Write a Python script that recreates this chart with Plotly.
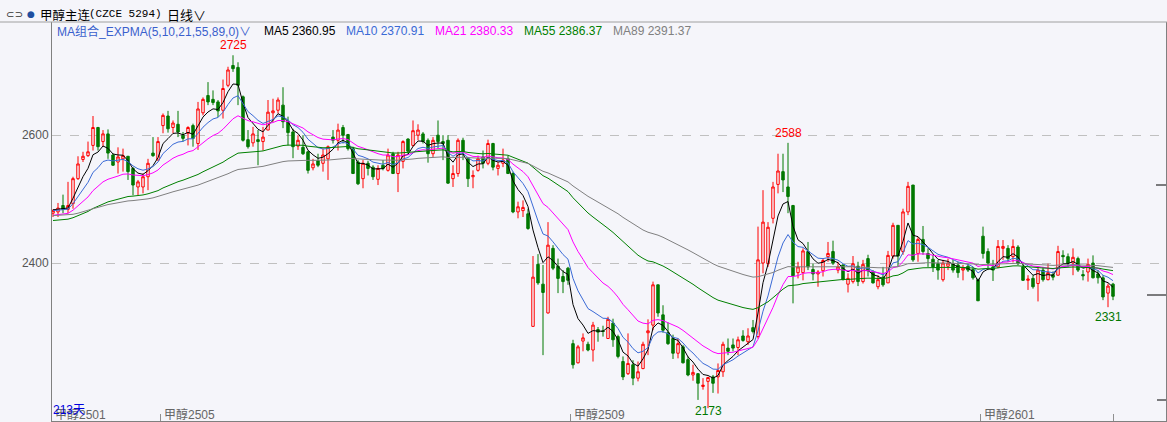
import plotly.graph_objects as go

# ---------------- data ----------------
open_ = [2478,2480,2490,2484,2493,2532,2562,2568,2584,2612,2590,2602,2569,2558,2563,2567,2548,2519,2519,2535,
         2572,2561,2615,2630,2612,2617,2600,2603,2615,2587,2635,2662,2656,2652,2639,2678,2709,2706,2660,2593,
         2588,2593,2590,2608,2635,2639,2647,2621,2605,2583,2581,2574,2549,2560,2556,2563,2597,2592,2612,2601,
         2579,2558,2532,2556,2550,2531,2553,2545,2571,2540,2559,2594,2584,2600,2602,2592,2571,2600,2590,2592,
         2532,2540,2592,2563,2535,2545,2566,2556,2587,2548,2556,2563,2540,2480,2482,2477,2301,2398,2367,2322,
         2423,2395,2379,2392,2274,2244,2278,2273,2264,2296,2294,2282,2306,2285,2246,2227,2241,2220,2235,2291,
         2303,2366,2319,2291,2282,2259,2269,2249,2225,2227,2207,2215,2222,2222,2230,2267,2272,2268,2286,2277,
         2299,2285,2400,2399,2470,2523,2543,2519,2490,2385,2385,2418,2390,2383,2388,2410,2418,2389,2397,2367,
         2371,2395,2371,2407,2386,2363,2378,2369,2411,2459,2418,2480,2522,2415,2437,2415,2406,2399,2374,2395,
         2399,2397,2389,2395,2390,2374,2442,2418,2394,2394,2423,2423,2410,2425,2394,2373,2376,2368,2389,2374,
         2382,2381,2412,2410,2400,2407,2382,2386,2400,2383,2377,2353,2367]
high = [2484,2494,2507,2527,2535,2567,2574,2590,2630,2613,2608,2609,2571,2581,2579,2567,2550,2530,2540,2563,
        2597,2597,2634,2638,2623,2638,2605,2614,2618,2652,2659,2683,2670,2655,2687,2707,2725,2714,2662,2608,
        2613,2608,2613,2655,2657,2659,2675,2629,2610,2600,2600,2576,2563,2571,2579,2584,2608,2618,2616,2602,
        2582,2561,2561,2560,2553,2553,2561,2579,2574,2574,2592,2595,2623,2617,2605,2595,2597,2623,2600,2600,
        2553,2595,2596,2566,2545,2568,2576,2593,2588,2558,2579,2568,2543,2496,2498,2485,2411,2414,2397,2464,
        2428,2407,2389,2394,2280,2272,2290,2277,2308,2300,2302,2316,2313,2288,2254,2290,2248,2246,2277,2312,
        2371,2366,2334,2307,2288,2282,2272,2254,2241,2228,2220,2222,2225,2243,2277,2282,2282,2285,2295,2298,
        2311,2457,2514,2464,2527,2571,2571,2588,2491,2402,2423,2433,2399,2389,2407,2433,2435,2402,2398,2384,
        2411,2402,2405,2413,2389,2381,2394,2419,2463,2459,2485,2527,2522,2441,2458,2423,2413,2405,2405,2407,
        2405,2402,2397,2399,2394,2376,2457,2423,2405,2436,2436,2428,2437,2428,2398,2381,2381,2394,2394,2399,
        2387,2427,2420,2415,2423,2410,2389,2407,2412,2389,2381,2368,2369]
low = [2472,2472,2478,2478,2485,2530,2558,2566,2576,2576,2582,2563,2552,2540,2543,2530,2506,2506,2509,2514,
       2566,2561,2603,2604,2603,2597,2590,2584,2582,2577,2631,2647,2647,2628,2626,2675,2699,2647,2590,2579,
       2582,2553,2576,2608,2621,2634,2611,2584,2564,2577,2569,2540,2545,2550,2543,2530,2587,2576,2587,2576,
       2540,2522,2517,2537,2530,2522,2545,2543,2540,2511,2548,2569,2582,2592,2587,2557,2566,2579,2561,2524,
       2519,2535,2561,2519,2517,2543,2548,2553,2545,2537,2550,2540,2478,2470,2472,2452,2300,2366,2256,2321,
       2389,2353,2353,2366,2235,2243,2262,2262,2246,2277,2285,2282,2269,2251,2217,2225,2209,2215,2234,2256,
       2295,2316,2291,2272,2250,2251,2243,2223,2216,2186,2202,2173,2197,2196,2222,2256,2262,2256,2277,2272,
       2290,2282,2384,2394,2462,2509,2511,2478,2337,2376,2373,2389,2373,2363,2379,2402,2397,2384,2373,2354,
       2368,2364,2368,2379,2368,2359,2363,2369,2407,2394,2413,2475,2402,2402,2413,2394,2386,2374,2371,2389,
       2385,2377,2373,2386,2374,2341,2407,2389,2372,2392,2405,2402,2401,2397,2372,2358,2360,2340,2371,2373,
       2373,2381,2400,2394,2381,2386,2373,2371,2376,2368,2342,2331,2342]
close = [2482,2486,2484,2490,2532,2555,2567,2574,2612,2582,2602,2572,2553,2566,2568,2543,2522,2527,2535,2556,
         2568,2590,2631,2610,2619,2605,2595,2612,2595,2641,2656,2652,2651,2638,2673,2702,2704,2678,2592,2582,
         2602,2590,2597,2636,2638,2655,2621,2604,2582,2592,2571,2545,2555,2553,2569,2582,2592,2608,2600,2579,
         2540,2524,2556,2548,2535,2548,2548,2569,2540,2569,2590,2575,2607,2608,2590,2571,2592,2590,2587,2525,
         2540,2592,2574,2532,2537,2563,2556,2587,2550,2553,2561,2540,2480,2488,2487,2454,2378,2369,2354,2428,
         2392,2376,2371,2373,2241,2269,2283,2264,2303,2292,2293,2312,2280,2254,2222,2243,2220,2230,2273,2294,
         2366,2322,2295,2274,2259,2274,2244,2225,2229,2212,2209,2221,2212,2232,2273,2262,2267,2280,2279,2286,
         2293,2405,2464,2456,2519,2544,2530,2504,2380,2394,2419,2394,2383,2386,2404,2415,2400,2394,2374,2376,
         2399,2371,2398,2388,2369,2374,2366,2412,2459,2411,2480,2520,2405,2437,2418,2407,2394,2389,2400,2400,
         2389,2385,2392,2389,2377,2341,2415,2400,2389,2426,2426,2407,2426,2399,2373,2375,2363,2389,2374,2385,
         2378,2418,2410,2400,2409,2389,2380,2398,2377,2377,2347,2364,2348]

ma_periods = [5, 10, 21, 55, 89]
ma_start = [2484, 2482, 2474, 2466, 2474]          # MA levels at the first bar
ma_colors = ["#000000", "#3a6ad6", "#ff00ff", "#008000", "#808080"]
legend_texts = ["MA5 2360.95", "MA10 2370.91", "MA21 2380.33", "MA55 2386.37", "MA89 2391.37"]
legend_x = [262, 344, 433, 522, 611]
contract_labels = ["甲醇2501", "甲醇2505", "甲醇2509", "甲醇2601"]
contract_start = [0, 22, 104, 186]
y_ticks = [2400, 2600]

BG = "#f5f5fa"
W, H = 1167, 422
L, R, T, B = 52, 1, 22, 1
PW, PH = W - L - R, H - T - B
X_RANGE = [-0.2, 222.6]

n = len(close)
idx = list(range(n))

def expma(vals, period, seed):
    a = 2.0 / (period + 1)
    out, e = [], seed
    for v in vals:
        e = a * v + (1 - a) * e
        out.append(e)
    return out

fig = go.Figure()
fig.add_trace(go.Candlestick(
    x=idx, open=open_, high=high, low=low, close=close,
    increasing=dict(line=dict(color="#ff0000", width=1), fillcolor=BG),
    decreasing=dict(line=dict(color="#007800", width=1), fillcolor="#007800"),
    whiskerwidth=0, showlegend=False, hoverinfo="skip"))

for p, s, c in zip(ma_periods, ma_start, ma_colors):
    fig.add_trace(go.Scatter(x=idx, y=expma(close, p, s), mode="lines",
                             line=dict(color=c, width=1), showlegend=False, hoverinfo="skip"))

ann = []
def px2paper_x(px):
    return (px - L) / PW
def py2paper_y(py):
    return (H - B - py) / PH

# header
ann.append(dict(x=px2paper_x(31), y=py2paper_y(14), xref="paper", yref="paper", text="●",
                showarrow=False, xanchor="center", yanchor="middle",
                font=dict(size=9, color="#1f4fa0", family="DejaVu Sans")))
ann.append(dict(x=px2paper_x(4), y=py2paper_y(14), xref="paper", yref="paper", text="⊂⊃",
                showarrow=False, xanchor="left", yanchor="middle",
                font=dict(size=10, color="#333333", family="DejaVu Sans")))
ann.append(dict(x=px2paper_x(38), y=py2paper_y(14), xref="paper", yref="paper", text="甲醇主连",
                showarrow=False, xanchor="left", yanchor="middle",
                font=dict(size=12.5, color="#000000", family="Noto Sans CJK SC")))
ann.append(dict(x=px2paper_x(87), y=py2paper_y(14), xref="paper", yref="paper", text="(CZCE 5294)",
                showarrow=False, xanchor="left", yanchor="middle",
                font=dict(size=11, color="#000000", family="Liberation Mono")))
ann.append(dict(x=px2paper_x(165), y=py2paper_y(14), xref="paper", yref="paper", text="日线∨",
                showarrow=False, xanchor="left", yanchor="middle",
                font=dict(size=13, color="#000000", family="Noto Sans CJK SC")))

# indicator legend
ann.append(dict(x=px2paper_x(55), y=py2paper_y(31), xref="paper", yref="paper",
                text="MA组合_EXPMA(5,10,21,55,89,0)∨", showarrow=False, xanchor="left", yanchor="middle",
                font=dict(size=12, color="#3a5fcd", family="Liberation Sans, Noto Sans CJK SC")))
for t, xx, c in zip(legend_texts, legend_x, ma_colors):
    ann.append(dict(x=px2paper_x(xx), y=py2paper_y(31), xref="paper", yref="paper", text=t,
                    showarrow=False, xanchor="left", yanchor="middle",
                    font=dict(size=12, color=c, family="Liberation Sans")))

# extreme labels
def hi_label(lo_i, hi_i):
    seg = high[lo_i:hi_i]
    j = lo_i + seg.index(max(seg))
    return dict(x=j, y=high[j], text=str(high[j]), showarrow=False, xanchor="center", yanchor="bottom",
                yshift=1, font=dict(size=12, color="#ff0000", family="Liberation Sans"))
def lo_label(lo_i, hi_i, at_bottom=False):
    seg = low[lo_i:hi_i]
    j = lo_i + seg.index(min(seg))
    d = dict(x=j, text=str(low[j]), showarrow=False, xanchor="center",
             font=dict(size=12, color="#007800", family="Liberation Sans"))
    if at_bottom:   # no room below the low: label sits on the bottom edge
        d.update(y=py2paper_y(420), yref="paper", yanchor="bottom")
    else:
        d.update(y=low[j], yanchor="top", yshift=-1)
    return d
ann.append(hi_label(0, 100))
ann.append(hi_label(104, n))
ann.append(lo_label(0, n, at_bottom=True))
ann.append(lo_label(200, n))

# contract labels on the bottom
for lab, st in zip(contract_labels, contract_start):
    ann.append(dict(x=max(st - 0.3, X_RANGE[0] + 0.1), y=py2paper_y(414), xref="x", yref="paper", text=lab,
                    showarrow=False, xanchor="left", yanchor="middle",
                    font=dict(size=12, color="#666666", family="Liberation Sans, Noto Sans CJK SC")))
ann.append(dict(x=px2paper_x(51), y=py2paper_y(410), xref="paper", yref="paper", text=f"{n}天",
                showarrow=False, xanchor="left", yanchor="middle",
                font=dict(size=12, color="#0000dd", family="Liberation Sans, Noto Sans CJK SC")))

shapes = [
    dict(type="line", xref="paper", yref="paper", x0=px2paper_x(0), x1=px2paper_x(W), y0=1, y1=1,
         line=dict(color="#a0a0a0", width=1)),
    dict(type="line", xref="paper", yref="paper", x0=px2paper_x(1156), x1=1, y0=py2paper_y(185), y1=py2paper_y(185),
         line=dict(color="#000000", width=1)),
    dict(type="line", xref="paper", yref="paper", x0=px2paper_x(1147), x1=1, y0=py2paper_y(295), y1=py2paper_y(295),
         line=dict(color="#000000", width=1)),
    dict(type="line", xref="paper", yref="paper", x0=px2paper_x(1157), x1=1, y0=py2paper_y(400), y1=py2paper_y(400),
         line=dict(color="#000000", width=1)),
]

fig.update_layout(
    width=W, height=H, margin=dict(l=L, r=R, t=T, b=B, pad=0),
    paper_bgcolor=BG, plot_bgcolor=BG, showlegend=False, boxgap=0.3,
    annotations=ann, shapes=shapes,
    xaxis=dict(range=X_RANGE, showgrid=False, zeroline=False, rangeslider=dict(visible=False),
               tickvals=[c - 0.5 for c in contract_start[1:]] + [n - 1], ticks="inside", ticklen=7,
               tickcolor="#909090", showticklabels=False, showline=True, linecolor="#808080",
               mirror=False, fixedrange=True),
    yaxis=dict(range=[2153, 2777], tickvals=y_ticks, ticktext=[str(v) for v in y_ticks],
               showgrid=True, gridcolor="#c0c0c0", griddash="dash", gridwidth=1, zeroline=False,
               showline=True, linecolor="#808080", mirror=True, ticks="",
               tickfont=dict(size=12, color="#555555", family="Liberation Sans"), fixedrange=True),
)

fig.write_html("out.html", config={"displayModeBar": False, "staticPlot": True},
               post_script="document.body.style.margin='0';document.body.style.overflow='hidden';")
